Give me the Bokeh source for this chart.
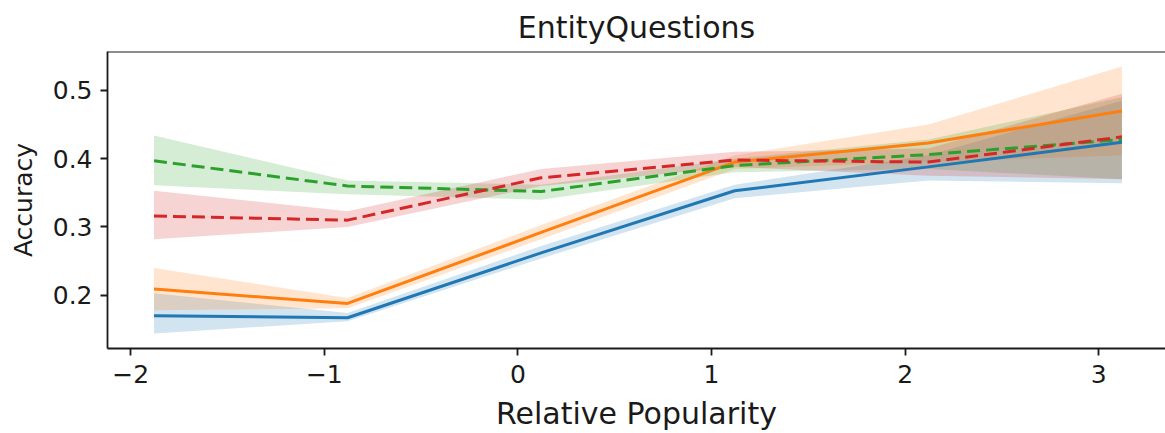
from bokeh.plotting import figure
from bokeh.models import Range1d, FixedTicker, Span
from bokeh.embed import file_html
from bokeh.resources import INLINE

# ---- data ----
x_vals = [-1.88, -0.88, 0.12, 1.12, 2.12, 3.12]

blue = [0.170, 0.167, 0.262, 0.353, 0.388, 0.424]
blue_lo = [0.144, 0.162, 0.254, 0.342, 0.368, 0.364]
blue_hi = [0.203, 0.174, 0.272, 0.362, 0.405, 0.485]

orange = [0.209, 0.188, 0.292, 0.395, 0.423, 0.470]
orange_lo = [0.178, 0.181, 0.282, 0.385, 0.395, 0.405]
orange_hi = [0.240, 0.196, 0.303, 0.405, 0.450, 0.535]

green = [0.397, 0.360, 0.352, 0.390, 0.406, 0.428]
green_lo = [0.361, 0.348, 0.340, 0.380, 0.385, 0.370]
green_hi = [0.434, 0.368, 0.362, 0.400, 0.428, 0.490]

red = [0.316, 0.310, 0.372, 0.398, 0.395, 0.432]
red_lo = [0.282, 0.300, 0.360, 0.388, 0.375, 0.370]
red_hi = [0.353, 0.323, 0.385, 0.410, 0.415, 0.495]

x_ticks = [-2, -1, 0, 1, 2, 3]
x_tick_labels = {-2: "\u22122", -1: "\u22121", 0: "0", 1: "1", 2: "2", 3: "3"}
y_ticks = [0.2, 0.3, 0.4, 0.5]

title_text = "EntityQuestions"
x_label = "Relative Popularity"
y_label = "Accuracy"

x_start, x_end = -2.12, 3.345
y_start, y_end = 0.122, 0.557

FONT = "DejaVu Sans"
INK = "#1a1a1a"

p = figure(width=1165, height=433, output_backend="svg", toolbar_location=None,
           x_range=Range1d(x_start, x_end), y_range=Range1d(y_start, y_end),
           min_border_left=107, min_border_right=0, min_border_top=51,
           min_border_bottom=85)

p.title.text = title_text
p.title.align = "center"
p.title.text_font = FONT
p.title.text_font_size = "30px"
p.title.text_font_style = "normal"
p.title.text_color = INK
p.title.standoff = 13

p.xgrid.visible = False
p.ygrid.visible = False
p.outline_line_color = None
p.background_fill_color = "white"
p.border_fill_color = "white"

series = [
    (blue, blue_lo, blue_hi, "#1f77b4", "solid"),
    (orange, orange_lo, orange_hi, "#ff7f0e", "solid"),
    (green, green_lo, green_hi, "#2ca02c", "13 6"),
    (red, red_lo, red_hi, "#d62728", "13 6"),
]
for ys, lo, hi, col, dash in series:
    p.varea(x=x_vals, y1=lo, y2=hi, fill_color=col, fill_alpha=0.2)
for ys, lo, hi, col, dash in series:
    p.line(x=x_vals, y=ys, line_color=col, line_width=3, line_dash=dash)

# top spine
p.add_layout(Span(location=y_end, dimension="width", line_color=INK, line_width=1.8))

for ax in (p.xaxis[0], p.yaxis[0]):
    ax.axis_line_color = INK
    ax.axis_line_width = 1.8
    ax.major_tick_line_color = INK
    ax.major_tick_line_width = 1.8
    ax.major_tick_in = 0
    ax.major_tick_out = 7
    ax.minor_tick_line_color = None
    ax.major_label_text_font = FONT
    ax.major_label_text_font_size = "25px"
    ax.major_label_text_color = INK
    ax.axis_label_text_font = FONT
    ax.axis_label_text_font_style = "normal"
    ax.axis_label_text_color = INK

p.xaxis[0].ticker = FixedTicker(ticks=x_ticks)
p.xaxis[0].major_label_overrides = x_tick_labels
p.xaxis[0].axis_label = x_label
p.xaxis[0].axis_label_text_font_size = "30px"
p.xaxis[0].major_label_standoff = 9
p.xaxis[0].axis_label_standoff = 10

p.yaxis[0].ticker = FixedTicker(ticks=y_ticks)
p.yaxis[0].axis_label = y_label
p.yaxis[0].axis_label_text_font_size = "25px"
p.yaxis[0].major_label_standoff = 8
p.yaxis[0].axis_label_standoff = 12

open("out.html", "w").write(file_html(p, INLINE))
